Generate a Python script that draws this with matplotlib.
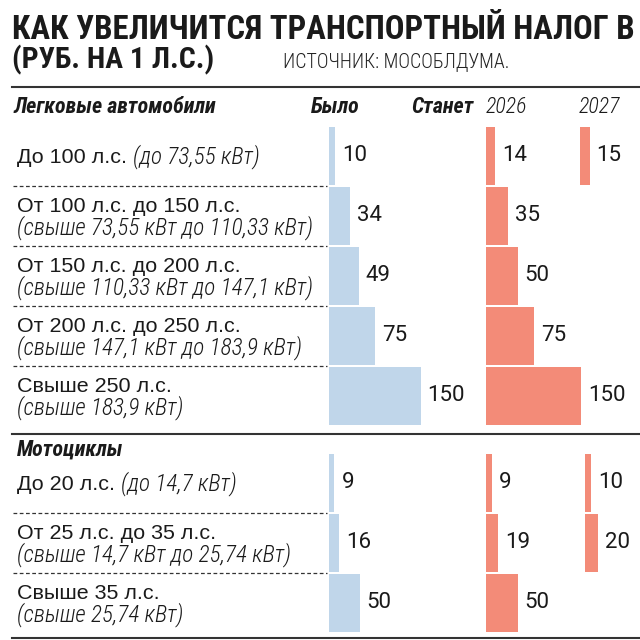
import matplotlib
matplotlib.use("Agg")
import matplotlib.pyplot as plt
from matplotlib import font_manager
from matplotlib.transforms import offset_copy

# ---- data ----
car_groups = ["До 100 л.с.", "От 100 л.с. до 150 л.с.", "От 150 л.с. до 200 л.с.",
              "От 200 л.с. до 250 л.с.", "Свыше 250 л.с."]
car_kw = ["(до 73,55 кВт)", "(свыше 73,55 кВт до 110,33 кВт)", "(свыше 110,33 кВт до 147,1 кВт)",
          "(свыше 147,1 кВт до 183,9 кВт)", "(свыше 183,9 кВт)"]
car_was = [10, 34, 49, 75, 150]
car_2026 = [14, 35, 50, 75, 150]
car_2027 = [15, None, None, None, None]

moto_groups = ["До 20 л.с.", "От 25 л.с. до 35 л.с.", "Свыше 35 л.с."]
moto_kw = ["(до 14,7 кВт)", "(свыше 14,7 кВт до 25,74 кВт)", "(свыше 25,74 кВт)"]
moto_was = [9, 16, 50]
moto_2026 = [9, 19, 50]
moto_2027 = [10, 20, None]

title1 = "КАК УВЕЛИЧИТСЯ ТРАНСПОРТНЫЙ НАЛОГ В"
title2 = "(РУБ. НА 1 Л.С.)"
source = "ИСТОЧНИК: МОСОБЛДУМА."

BLUE = "#c0d6ea"
RED = "#f38b78"
INK = "#1a1a1a"

names = {f.name for f in font_manager.fontManager.ttflist}


def first(*cands):
    for c in cands:
        if c in names:
            return c
    return "DejaVu Sans"


NARROW = first("Roboto Condensed", "Liberation Sans Narrow", "DejaVu Sans Condensed", "Liberation Sans")
SANS = first("Liberation Sans", "Roboto", "DejaVu Sans")
NUM = first("Roboto", "Liberation Sans")

fig = plt.figure(figsize=(6.4, 6.4), dpi=100)
bg = fig.add_axes([0, 0, 1, 1])
bg.set_xlim(0, 640)
bg.set_ylim(640, 0)
bg.axis("off")
renderer = fig.canvas.get_renderer()


def fit(t, width):
    w = t.get_window_extent(renderer).width
    t.set_fontsize(t.get_fontsize() * width / w)
    return t


def txt(x, y, s, **kw):
    kw.setdefault("color", INK)
    kw.setdefault("va", "baseline")
    return bg.text(x, y, s, **kw)


# ---- title ----
fit(txt(12, 39, title1, family=NARROW, weight="bold", fontsize=26), 624)
fit(txt(12, 68, title2, family=NARROW, weight="bold", fontsize=26), 202)
fit(txt(283, 67, source, family=NARROW, weight="light", color="#222222", fontsize=12), 225)
bg.plot([12, 640], [87, 87], color="#333333", lw=1.5)

# ---- column headers ----
head = txt(13, 113, "Легковые автомобили", family=NARROW, weight="bold",
           style="italic", fontsize=16)
fit(head, 184)
hfs = head.get_fontsize() * 1.1
head.set_fontsize(hfs)
txt(311, 113, "Было", family=NARROW, weight="bold", style="italic", fontsize=hfs)
txt(411, 113, "Станет", family=NARROW, weight="bold", style="italic", fontsize=hfs)
txt(486, 113, "2026", family=NARROW, weight="light", style="italic", fontsize=hfs)
txt(579, 113, "2027", family=NARROW, weight="light", style="italic", fontsize=hfs)
txt(17, 456, "Мотоциклы", family=NARROW, weight="bold", style="italic", fontsize=hfs)

# ---- row labels ----
probe = txt(0, -100, "От 100 л.с. до 150 л.с.", family=SANS, fontsize=16)
fit(probe, 223)
main_fs = probe.get_fontsize()
probe.remove()
probe = txt(0, -100, "(свыше 73,55 кВт до 110,33 кВт)", family=NARROW, weight="light",
            style="italic", fontsize=16)
fit(probe, 296)
kw_fs = probe.get_fontsize()
probe.remove()


def row_labels(groups, kws, top, pitch):
    for i, (g, k) in enumerate(zip(groups, kws)):
        c = top + pitch * (i + 0.5)
        if i == 0:
            t = txt(17, c + 6, g, family=SANS, fontsize=main_fs)
            x1 = t.get_window_extent(renderer).x1
            txt(x1 + 6, c + 6, k, family=NARROW, weight="light", style="italic", fontsize=kw_fs)
        else:
            txt(17, c - 5, g, family=SANS, fontsize=main_fs)
            txt(17, c + 17, k, family=NARROW, weight="light", style="italic", fontsize=kw_fs)
            bg.plot([13, 327], [top + pitch * i - 1, top + pitch * i - 1],
                    color="#333333", lw=0.9, ls=(0, (3, 2)))


row_labels(car_groups, car_kw, 127, 60)
row_labels(moto_groups, moto_kw, 454, 60)

bg.plot([12, 640], [434, 434], color="#333333", lw=1.5)
bg.plot([12, 640], [638, 638], color="#333333", lw=1.5)


# ---- bars ----
def column(values, left, top, n, color, scale, width=130):
    ax = fig.add_axes([left / 640, 1 - (top + 60 * n) / 640, width / 640, 60 * n / 640])
    ax.set_xlim(0, width / scale)
    ax.set_ylim(n, 0)
    ax.axis("off")
    ax.patch.set_alpha(0)
    idx = [i for i, v in enumerate(values) if v is not None]
    vals = [values[i] for i in idx]
    ax.barh(idx, vals, height=0.967, align="edge", color=color, lw=0)
    tr = offset_copy(ax.transData, fig=fig, x=7, y=0, units="dots")
    for i, v in zip(idx, vals):
        ax.text(v, i + 0.483, str(v), transform=tr, va="center", ha="left",
                family=NUM, fontsize=16, color=INK)


column(car_was, 329, 127, 5, BLUE, 0.61)
column(car_2026, 486, 127, 5, RED, 0.635)
column(car_2027, 580, 127, 5, RED, 0.635, width=58)
column(moto_was, 329, 454, 3, BLUE, 0.61)
column(moto_2026, 486, 454, 3, RED, 0.635)
column(moto_2027, 585, 454, 3, RED, 0.635, width=54)

fig.savefig("out.png", dpi=100)
